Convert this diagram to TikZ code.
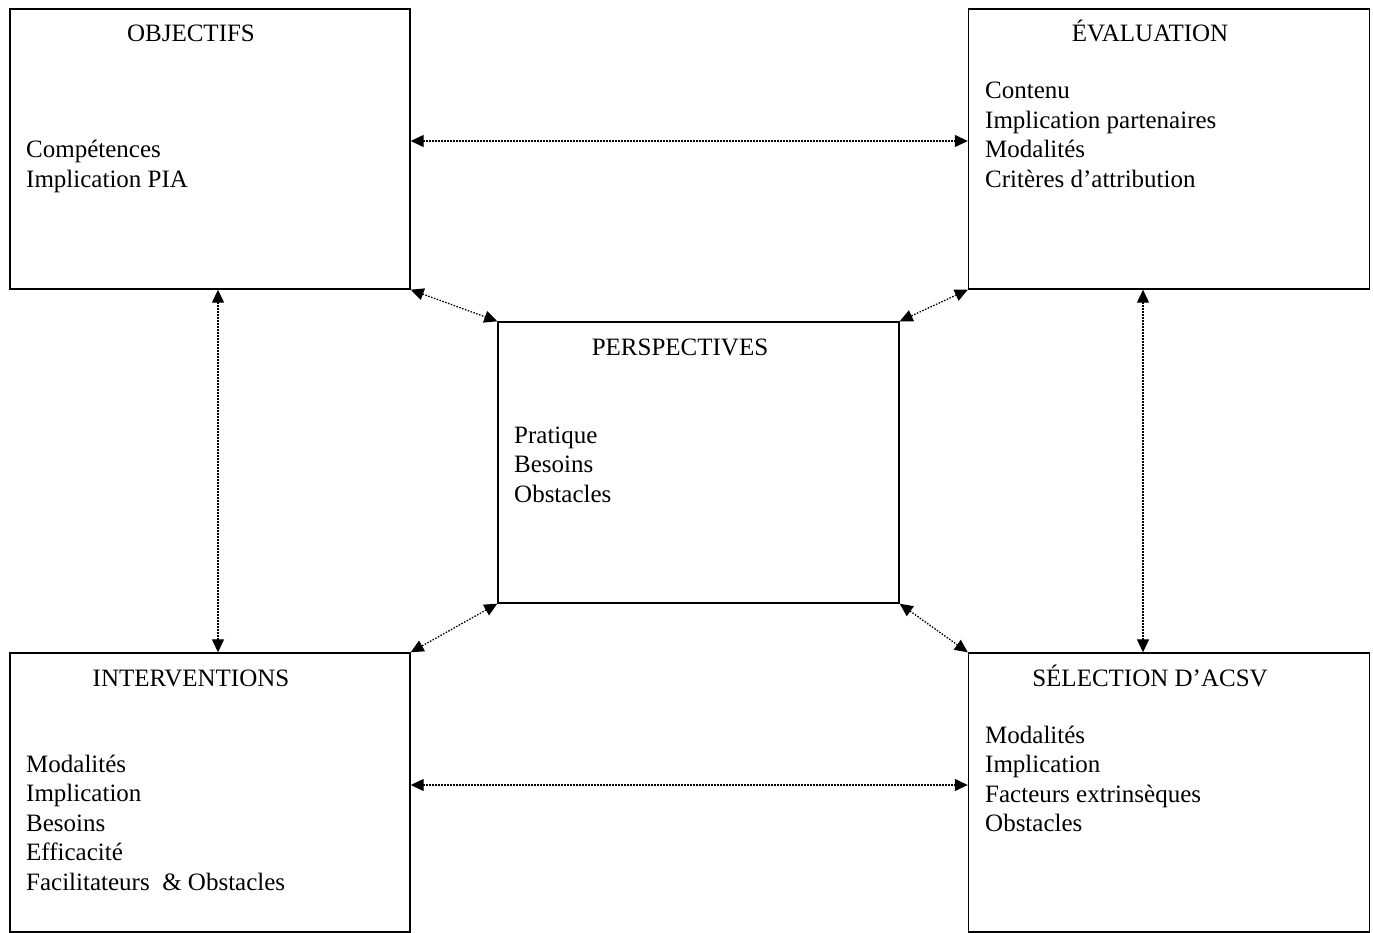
\documentclass[tikz,border=0pt]{standalone}
\usepackage{fontspec}
\setmainfont{Liberation Serif}
\usetikzlibrary{arrows.meta}
\tikzset{
  box/.style={draw, line width=1.4pt, inner sep=0pt, minimum width=#1},
  box/.default=400pt,
  title/.style={anchor=base, inner sep=0pt},
  body/.style={anchor=base west, inner sep=0pt},
  link/.style={line width=1.3pt, dash pattern=on 1.5pt off 1.5pt,
    {Triangle[length=13pt,width=12pt]}-{Triangle[length=13pt,width=12pt]}, shorten <=0pt, shorten >=0pt}
}
\begin{document}
\begin{tikzpicture}[x=1pt,y=-1pt,font=\fontsize{25}{29.5}\selectfont]
\useasboundingbox (0,0) rectangle (1373,933);
% boxes
\node[box=400pt, minimum height=280pt] (obj) at (210,149) {};
\node[box=401pt, minimum height=280pt] (eval) at (1169,149) {};
\node[box=401pt, minimum height=281pt] (pers) at (698.5,462.5) {};
\node[box=400pt, minimum height=279pt] (int) at (210,792.5) {};
\node[box=401pt, minimum height=279pt] (sel) at (1169,792.5) {};
% titles
\node[title] (objT) at (191,42) {OBJECTIFS};
\node[title] (evalT) at (1150,42) {ÉVALUATION};
\node[title] (persT) at (680,355) {PERSPECTIVES};
\node[title] (intT) at (191,686) {INTERVENTIONS};
\node[title] (selT) at (1150,686) {SÉLECTION D’ACSV};
% bodies
\node[body] (objB) at (26,158) {\parbox[t]{360pt}{\raggedright Compétences\\Implication PIA}};
\node[body] (evalB) at (985,99) {\parbox[t]{370pt}{\raggedright Contenu\\Implication partenaires\\Modalités\\Critères d’attribution}};
\node[body] (persB) at (514,443) {\parbox[t]{370pt}{\raggedright Pratique\\Besoins\\Obstacles}};
\node[body] (intB) at (26,772) {\parbox[t]{370pt}{\raggedright Modalités\\Implication\\Besoins\\Efficacité\\Facilitateurs~ \& Obstacles}};
\node[body] (selB) at (985,743) {\parbox[t]{370pt}{\raggedright Modalités\\Implication\\Facteurs extrinsèques\\Obstacles}};
% connectors
\draw[link] ([yshift=8pt]obj.east) -- ([yshift=8pt]eval.west);
\draw[link] ([yshift=7.5pt]int.east) -- ([yshift=7.5pt]sel.west);
\draw[link] ([xshift=8pt]obj.south) -- ([xshift=8pt]int.north);
\draw[link] ([xshift=-26pt]eval.south) -- ([xshift=-26pt]sel.north);
\draw[link] (obj.south east) -- (pers.north west);
\draw[link] (eval.south west) -- (pers.north east);
\draw[link] (pers.south west) -- (int.north east);
\draw[link] (pers.south east) -- (sel.north west);
\end{tikzpicture}
\end{document}
